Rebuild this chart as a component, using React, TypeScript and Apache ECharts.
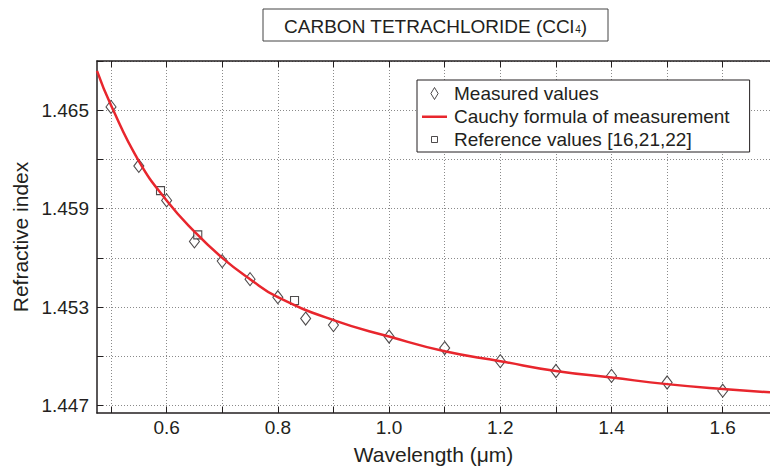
import React, { useEffect, useRef } from 'react';
import * as echarts from 'echarts';

const FONT = '"Liberation Sans", Arial, Helvetica, sans-serif';
const INK = '#231f20';
const RED = '#e8262d';

const xRange = [0.4748, 1.685];
const yRange = [1.44654, 1.468];
const xTickValues = [0.5, 0.6, 0.7, 0.8, 0.9, 1.0, 1.1, 1.2, 1.3, 1.4, 1.5, 1.6];
const xLabelValues = [0.6, 0.8, 1.0, 1.2, 1.4, 1.6];
const yTickValues = [1.447, 1.45, 1.453, 1.456, 1.459, 1.462, 1.465, 1.468];
const yLabelValues = [1.447, 1.453, 1.459, 1.465];

const measuredWavelength = [0.5, 0.55, 0.6, 0.65, 0.7, 0.75, 0.8, 0.85, 0.9, 1.0, 1.1, 1.2, 1.3, 1.4, 1.5, 1.6];
const measuredIndex = [1.4652, 1.4616, 1.4595, 1.457, 1.4558, 1.4547, 1.4536, 1.4523, 1.4519, 1.4512, 1.4505, 1.4497, 1.4491, 1.4488, 1.4484, 1.4479];

const cauchyWavelength = [0.4748, 0.5, 0.55, 0.6, 0.65, 0.7, 0.75, 0.8, 0.9, 1.0, 1.1, 1.2, 1.3, 1.4, 1.5, 1.6, 1.685];
const cauchyIndex = [1.4674, 1.4653, 1.4619, 1.4595, 1.4576, 1.456, 1.4547, 1.4536, 1.4522, 1.4512, 1.4503, 1.4497, 1.4491, 1.4487, 1.4483, 1.448, 1.4478];

const referenceWavelength = [0.589, 0.656, 0.83];
const referenceIndex = [1.4601, 1.4574, 1.4534];

const seriesNames = ['Measured values', 'Cauchy formula of measurement', 'Reference values [16,21,22]'];

export default function App() {
  const ref = useRef<HTMLDivElement>(null);
  useEffect(() => {
    if (!ref.current) return;
    const chart = echarts.init(ref.current, null, { renderer: 'svg' });
    const zip = (xs: number[], ys: number[]) => xs.map((x, i) => [x, ys[i]]);
    const axisLine = { show: true, lineStyle: { color: INK, width: 1.5 } };
    const tick = (vals: number[]) => ({ show: true, inside: true, length: 6, customValues: vals, lineStyle: { color: INK, width: 1 } });
    const split = { show: true, lineStyle: { color: '#8a8a8a', width: 1, type: [1, 2] } };
    chart.setOption({
      animation: false,
      backgroundColor: '#fff',
      textStyle: { fontFamily: FONT },
      grid: { left: 97, top: 61, right: 0, bottom: 53, containLabel: false, outerBoundsMode: 'none' },
      xAxis: [
        {
          type: 'value', min: xRange[0], max: xRange[1], position: 'bottom',
          axisLine, axisTick: tick(xTickValues), splitLine: split,
          axisLabel: { customValues: xLabelValues, formatter: (v: number) => v.toFixed(1), fontSize: 19, color: INK, margin: 5, fontFamily: FONT },
          name: 'Wavelength (μm)', nameLocation: 'middle', nameGap: 31,
          nameTextStyle: { fontSize: 21, color: INK, fontFamily: FONT },
        },
        {
          type: 'value', min: xRange[0], max: xRange[1], position: 'top',
          axisLine, axisTick: tick(xTickValues), splitLine: { show: false },
          axisLabel: { show: false },
        },
      ],
      yAxis: {
        type: 'value', min: yRange[0], max: yRange[1],
        axisLine, axisTick: tick(yTickValues), splitLine: split,
        axisLabel: { customValues: yLabelValues, formatter: (v: number) => v.toFixed(3), fontSize: 19, color: INK, margin: 8, fontFamily: FONT },
        name: 'Refractive index', nameLocation: 'middle', nameGap: 60,
        nameTextStyle: { fontSize: 21, color: INK, fontFamily: FONT },
      },
      legend: {
        orient: 'vertical', left: 417, top: 80,
        padding: [4, 20, 3, 5], itemGap: 4, itemWidth: 25, itemHeight: 12,
        backgroundColor: '#fff', borderColor: INK, borderWidth: 1,
        textStyle: { fontSize: 19, color: INK, fontFamily: FONT, lineHeight: 19, padding: [0, 0, 0, 2] },
        data: [
          { name: seriesNames[0], icon: 'path://M3,0L6,5L3,10L0,5Z', itemStyle: { color: '#fff', borderColor: INK, borderWidth: 1 } },
          { name: seriesNames[1], icon: 'path://M0,0M25,12M0,5L25,5L25,7.5L0,7.5Z', itemStyle: { color: RED, borderWidth: 0 } },
          { name: seriesNames[2], icon: 'path://M0,0M12,12M3,3L9,3L9,9L3,9Z', itemStyle: { color: '#fff', borderColor: INK, borderWidth: 1 } },
        ],
      },
      graphic: [
        { type: 'rect', shape: { x: 263, y: 9, width: 345, height: 32 }, style: { fill: '#fff', stroke: '#444', lineWidth: 1 } },
        {
          type: 'text', x: 435.5, y: 26,
          style: {
            text: 'CARBON TETRACHLORIDE (CCl{sub|4})',
            rich: { sub: { fontSize: 10, fontFamily: FONT, fill: INK, padding: [7, 0, 0, 1] } },
            fontSize: 19, fontFamily: FONT, fill: INK, align: 'center', verticalAlign: 'middle',
          },
        },
      ],
      series: [
        {
          name: seriesNames[0], type: 'scatter', data: zip(measuredWavelength, measuredIndex),
          symbol: 'diamond', symbolSize: [10, 13], z: 2,
          itemStyle: { color: '#fff', borderColor: INK, borderWidth: 1.1 },
        },
        {
          name: seriesNames[1], type: 'line', data: zip(cauchyWavelength, cauchyIndex),
          smooth: true, symbol: 'none', showSymbol: false, z: 4,
          lineStyle: { color: RED, width: 2.5 }, itemStyle: { color: RED },
        },
        {
          name: seriesNames[2], type: 'scatter', data: zip(referenceWavelength, referenceIndex),
          symbol: 'rect', symbolSize: 8, z: 3,
          itemStyle: { color: '#fff', borderColor: INK, borderWidth: 1.1 },
        },
      ],
    });
    return () => chart.dispose();
  }, []);
  return <div ref={ref} style={{ position: 'fixed', left: 0, top: 0, width: 770, height: 466 }} />;
}
